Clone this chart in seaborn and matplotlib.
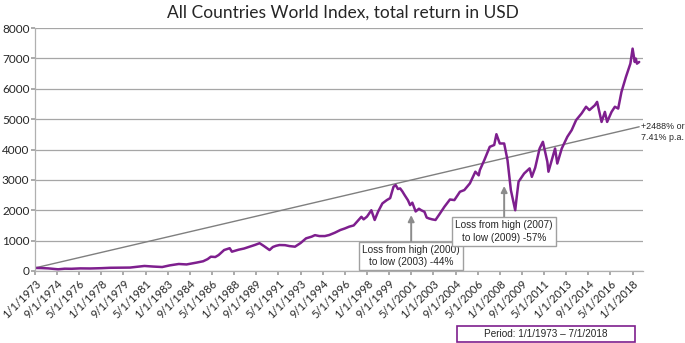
import matplotlib
matplotlib.use("Agg")
import matplotlib.pyplot as plt
from matplotlib.patches import Rectangle
import pandas as pd
import seaborn as sns

TITLE = "All Countries World Index, total return in USD"
PURPLE = "#7E1F8E"
GREY = "#7f7f7f"

months = [
    "1973-01", "1973-07", "1974-01", "1974-06", "1974-10", "1975-04", "1975-10", "1976-06",
    "1977-03", "1978-01", "1978-09", "1979-06", "1980-03", "1980-11", "1981-04", "1981-12",
    "1982-08", "1983-03", "1983-11", "1984-06", "1985-03", "1985-09", "1986-01", "1986-04",
    "1986-08", "1986-11", "1987-04", "1987-09", "1987-11", "1988-05", "1988-10", "1989-03",
    "1989-08", "1989-12", "1990-04", "1990-09", "1990-12", "1991-03", "1991-06", "1991-11",
    "1992-03", "1992-08", "1993-01", "1993-06", "1993-11", "1994-02", "1994-06", "1994-11",
    "1995-03", "1995-08", "1996-01", "1996-05", "1996-09", "1997-01", "1997-04", "1997-08",
    "1997-10", "1998-01", "1998-05", "1998-08", "1998-11", "1999-03", "1999-07", "1999-10",
    "2000-01", "2000-03", "2000-05", "2000-07", "2000-09", "2000-11", "2001-02", "2001-04",
    "2001-06", "2001-09", "2001-12", "2002-02", "2002-05", "2002-07", "2002-09", "2002-12",
    "2003-03", "2003-06", "2003-11", "2004-04", "2004-08", "2005-01", "2005-05", "2005-10",
    "2006-03", "2006-06", "2006-07", "2006-11", "2007-04", "2007-08", "2007-10", "2008-01",
    "2008-05", "2008-08", "2008-11", "2009-03", "2009-04", "2009-06", "2009-11", "2010-04",
    "2010-06", "2010-09", "2011-01", "2011-04", "2011-08", "2011-09", "2012-03", "2012-05",
    "2012-09", "2013-02", "2013-06", "2013-10", "2014-03", "2014-07", "2014-10", "2015-03",
    "2015-05", "2015-09", "2015-12", "2016-02", "2016-06", "2016-09", "2016-12", "2017-03",
    "2017-07", "2017-11", "2018-01", "2018-03", "2018-04", "2018-05", "2018-07",
]
index_values = [
    100, 95, 85, 70, 55, 75, 72, 85,
    82, 92, 105, 108, 112, 145, 165, 145,
    130, 185, 230, 215, 275, 320, 390, 470,
    460, 525, 690, 750, 635, 700, 740, 800,
    860, 915, 820, 690, 790, 830, 855, 850,
    820, 800, 920, 1075, 1130, 1180, 1150, 1150,
    1185, 1260, 1350, 1400, 1460, 1500, 1620, 1785,
    1700, 1790, 2000, 1680, 1950, 2225, 2335, 2400,
    2775, 2830, 2700, 2720, 2620, 2500, 2330, 2170,
    2250, 1960, 2050, 2000, 1950, 1760, 1730, 1700,
    1680, 1840, 2115, 2355, 2335, 2610, 2665, 2885,
    3270, 3150, 3320, 3650, 4090, 4150, 4505, 4200,
    4200, 3650, 2665, 2000, 2335, 2940, 3210, 3380,
    3100, 3400, 4035, 4255, 3600, 3270, 4035, 3540,
    4035, 4420, 4640, 4970, 5190, 5410, 5300, 5460,
    5570, 4910, 5240, 4910, 5240, 5410, 5350, 5900,
    6390, 6830, 7325, 6885, 6995, 6830, 6885,
]
trend_months = ["1973-01", "2018-07"]
trend_values = [100, 4750]

annotations = [
    ("Loss from high (2000)\nto low (2003) -44%", "2001-05", 950, 1840, 490),
    ("Loss from high (2007)\nto low (2009) -57%", "2008-05", 1680, 2800, 1300),
]
growth_label = "+2488% or\n7.41% p.a."
period_label = "Period: 1/1/1973 \u2013 7/1/2018"


def main() -> None:
    sns.set_theme(style="white")
    plt.rcParams["font.family"] = ["Lato", "DejaVu Sans"]
    arial = ["Liberation Sans", "DejaVu Sans"]

    df = pd.DataFrame({"date": pd.to_datetime(months), "value": index_values})
    trend = pd.DataFrame({"date": pd.to_datetime(trend_months), "value": trend_values})

    fig = plt.figure(figsize=(6.85, 3.43), dpi=100)
    ax = fig.add_axes([0.051, 0.21, 0.888, 0.708])

    sns.lineplot(data=trend, x="date", y="value", color=GREY, linewidth=1.0, ax=ax)
    sns.lineplot(data=df, x="date", y="value", color=PURPLE, linewidth=1.8, ax=ax)

    ax.set_ylim(0, 8000)
    ax.set_yticks(range(0, 8001, 1000))
    ax.set_xlim(pd.Timestamp("1973-01-01"), pd.Timestamp("2018-10-20"))
    ticks = pd.date_range("1973-01-01", "2018-01-01", freq="20MS")
    ax.set_xticks(ticks)
    ax.set_xticklabels([f"{d.month}/{d.day}/{d.year}" for d in ticks],
                       rotation=45, ha="right", rotation_mode="anchor", fontsize=8)
    ax.tick_params(axis="y", labelsize=8.5, length=3, color="#a0a0a0", pad=1, left=True)
    ax.tick_params(axis="x", length=3, color="#a0a0a0", pad=2, bottom=True)
    ax.set_xlabel("")
    ax.set_ylabel("")
    ax.grid(axis="y", color="#a6a6a6", linewidth=0.9)
    for side in ("top", "right"):
        ax.spines[side].set_visible(False)
    for side in ("left", "bottom"):
        ax.spines[side].set_color("#b0b0b0")
        ax.spines[side].set_linewidth(0.9)

    fig.text(0.5, 0.962, TITLE, ha="center", va="center", fontsize=12.5)

    for text, month, y0, y1, box_y in annotations:
        x = pd.Timestamp(month)
        ax.annotate("", xy=(x, y1), xytext=(x, y0),
                    arrowprops=dict(arrowstyle="-|>", color="#8c8c8c", lw=1.4,
                                    mutation_scale=9, shrinkA=0, shrinkB=0))
        ax.text(x, box_y, text, ha="center", va="center", fontsize=7.2,
                family=arial, linespacing=1.35,
                bbox=dict(boxstyle="square,pad=0.3", facecolor="white",
                          edgecolor="#a0a0a0", linewidth=1.0))

    fig.text(641 / 685, 1 - 132 / 343, growth_label, ha="left", va="center",
             fontsize=6.4, family=arial, linespacing=1.3)

    fig.patches.append(Rectangle((457 / 685, 1 - 342 / 343), 178 / 685, 16 / 343,
                                 transform=fig.transFigure, fill=False,
                                 edgecolor=PURPLE, linewidth=1.2))
    fig.text(546 / 685, 1 - 334 / 343, period_label, ha="center", va="center",
             fontsize=7.2, family=arial)

    fig.savefig("out.png", dpi=100)


if __name__ == "__main__":
    main()
